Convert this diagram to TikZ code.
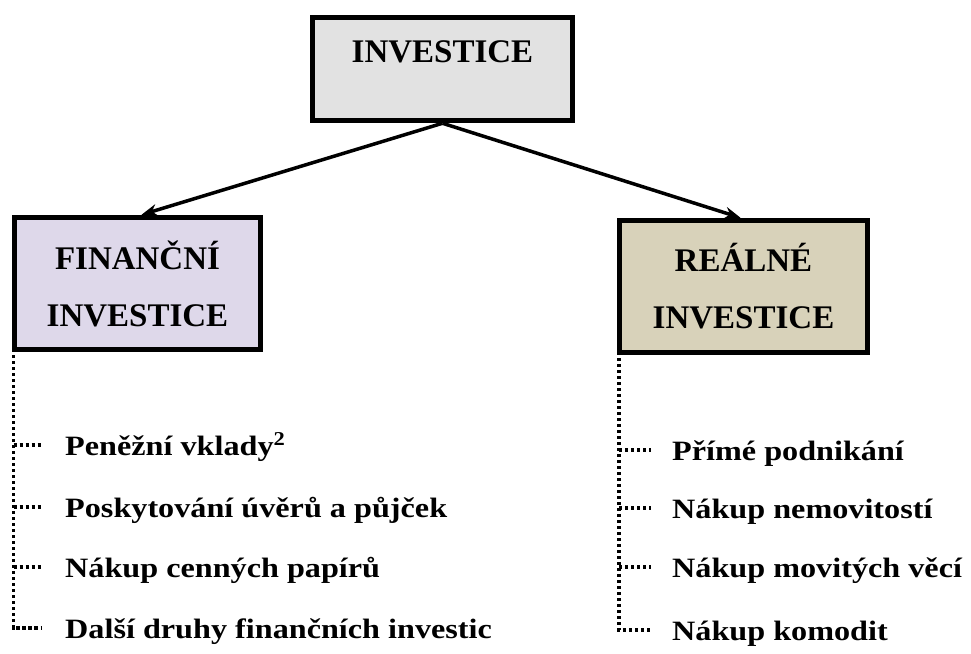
\documentclass[tikz,border=0pt]{standalone}
\usepackage{fontspec}
\setmainfont{Liberation Serif}
\usetikzlibrary{arrows.meta}
\definecolor{topfill}{RGB}{226,226,226}
\definecolor{finfill}{RGB}{222,216,234}
\definecolor{reafill}{RGB}{216,210,186}
\newcommand{\itm}[1]{\scalebox{1.15}[1]{#1}}
\tikzset{
  boxnode/.style={draw=black, line width=5.5pt, rectangle, inner xsep=0pt, inner ysep=0pt,
    align=center, font=\bfseries\fontsize{33}{57}\selectfont},
  itemnode/.style={anchor=west, inner sep=0pt, text height=20pt, text depth=0pt,
    font=\bfseries\fontsize{28}{30}\selectfont},
  arrowline/.style={line width=3.5pt, -{Stealth[length=16pt,width=12pt]}},
  dotline/.style={line width=3.6pt, dash pattern=on 3.2pt off 2.8pt}
}
\begin{document}
\begin{tikzpicture}[x=1pt,y=-1pt]
\useasboundingbox (0,0) rectangle (971,653);
% boxes
\node[boxnode, fill=topfill, minimum width=260pt, text height=44.5pt, text depth=58.5pt] (top) at (442.5,69) {INVESTICE};
\node[boxnode, fill=finfill, minimum width=246pt, minimum height=132pt] (fin) at (137.5,283.5) {FINANČNÍ\\INVESTICE};
\node[boxnode, fill=reafill, minimum width=248pt, minimum height=132pt] (rea) at (743.5,286.5) {REÁLNÉ\\INVESTICE};
% arrows
\draw[arrowline] (top.south) -- ([xshift=4pt]fin.north);
\draw[arrowline] (top.south) -- ([xshift=-3pt]rea.north);
% left list
\node[itemnode] (f1) at (65,445) {\itm{Peněžní vklady\textsuperscript{2}}};
\node[itemnode] (f2) at (65,507) {\itm{Poskytování úvěrů a půjček}};
\node[itemnode] (f3) at (65,567) {\itm{Nákup cenných papírů}};
\node[itemnode] (f4) at (65,628) {\itm{Další druhy finančních investic}};
% right list
\node[itemnode] (r1) at (672,450) {\itm{Přímé podnikání}};
\node[itemnode] (r2) at (672,508) {\itm{Nákup nemovitostí}};
\node[itemnode] (r3) at (672,567) {\itm{Nákup movitých věcí}};
\node[itemnode] (r4) at (672,630) {\itm{Nákup komodit}};
% dotted trees
\coordinate (fl) at (13.5,355);
\coordinate (rl) at (619,358);
\draw[dotline] (fl) -- (fl |- f4.west) -- ([xshift=-24pt]f4.west);
\foreach \i in {f1,f2,f3}{\draw[dotline] (fl |- \i.west) -- ([xshift=-24pt]\i.west);}
\draw[dotline] (rl) -- (rl |- r4.west) -- ([xshift=-21pt]r4.west);
\foreach \i in {r1,r2,r3}{\draw[dotline] (rl |- \i.west) -- ([xshift=-21pt]\i.west);}
\end{tikzpicture}
\end{document}
